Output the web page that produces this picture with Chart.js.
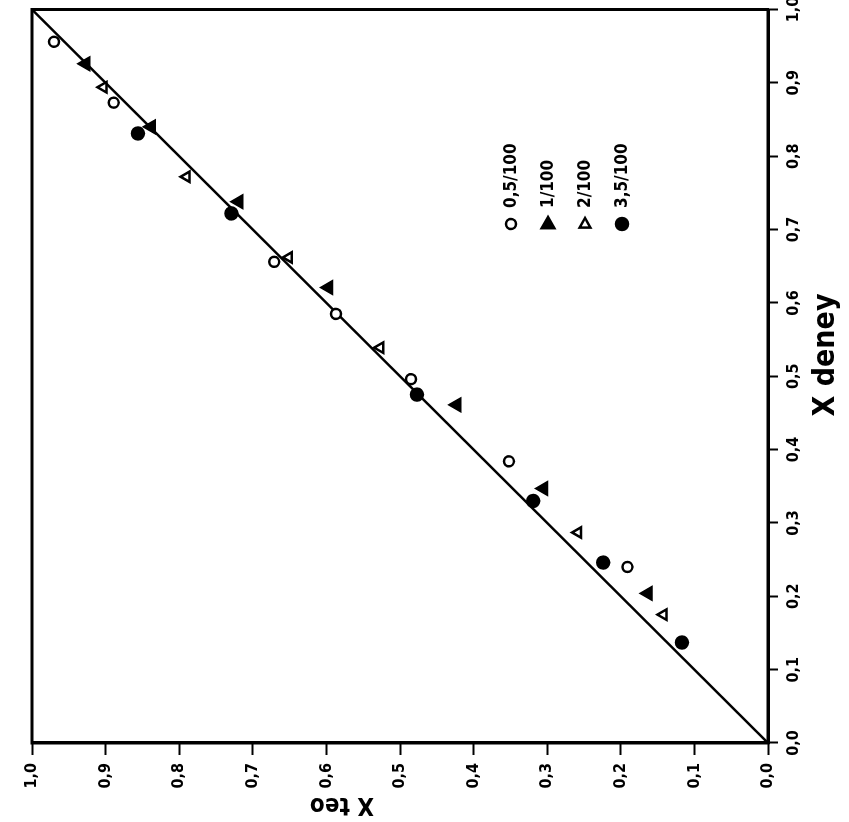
<!DOCTYPE html>
<html>
<head>
<meta charset="utf-8">
<script src="https://cdn.jsdelivr.net/npm/chart.js@4.4.1/dist/chart.umd.min.js"></script>
<style>
html, body { margin: 0; padding: 0; background: #fff; overflow: hidden; }
#wrap { position: absolute; left: 0; top: 0; width: 849px; height: 822px; }
/* the original figure is printed turned a quarter turn, so the whole canvas is turned */
#c { position: absolute; left: 0; top: 0; transform-origin: 0 0; transform: translateY(822px) rotate(-90deg); }
</style>
</head>
<body>
<div id="wrap"><canvas id="c" width="822" height="849"></canvas></div>
<script>
// series: x teo (theory) vs x deney (experiment)
const seriesNames = ['0,5/100', '1/100', '2/100', '3,5/100'];

const teo05   = [0.970, 0.889, 0.671, 0.587, 0.485, 0.352, 0.191];
const deney05 = [0.956, 0.873, 0.656, 0.585, 0.496, 0.384, 0.240];

const teo1    = [0.927, 0.838, 0.719, 0.597, 0.423, 0.305, 0.163];
const deney1  = [0.926, 0.840, 0.738, 0.621, 0.461, 0.347, 0.204];

const teo2    = [0.903, 0.790, 0.651, 0.527, 0.258, 0.142];
const deney2  = [0.894, 0.772, 0.662, 0.539, 0.287, 0.175];

const teo35   = [0.856, 0.729, 0.477, 0.319, 0.224, 0.117];
const deney35 = [0.831, 0.722, 0.475, 0.330, 0.246, 0.137];

// y = x reference line
const lineDeney = [0, 1];
const lineTeo = [0, 1];

const tickLabels = ['0,0', '0,1', '0,2', '0,3', '0,4', '0,5', '0,6', '0,7', '0,8', '0,9', '1,0'];
const xTitle = 'X deney';
const yTitle = 'X teo';

const FONT = "'Liberation Sans Narrow', 'DejaVu Sans Condensed', 'Liberation Sans', sans-serif";

function pts(xs, ys) {
    return xs.map((x, i) => ({x: x, y: ys[i]}));
}

// marker look per series
const markers = [
    {style: 'circle', radius: 5, fill: '#fff'},
    {style: 'triangle', radius: 7, fill: '#000'},
    {style: 'triangle', radius: 6, fill: '#fff'},
    {style: 'circle', radius: 6, fill: '#000'}
];

const frame = {
    id: 'frame',
    afterDraw(chart) {
        const a = chart.chartArea, ctx = chart.ctx;
        ctx.save();
        ctx.strokeStyle = '#000';
        ctx.lineWidth = 3;
        ctx.strokeRect(a.left, a.top, a.right - a.left, a.bottom - a.top);
        ctx.restore();
    }
};

// axis titles sit a bit off centre in the original
const titles = {
    id: 'titles',
    afterDraw(chart) {
        const ctx = chart.ctx;
        ctx.save();
        ctx.fillStyle = '#000';
        ctx.textAlign = 'center';
        ctx.textBaseline = 'middle';
        ctx.font = 'bold 30px ' + FONT;
        ctx.fillText(xTitle, 467, 826);
        ctx.translate(18, 342);
        ctx.rotate(-Math.PI / 2);
        ctx.font = 'bold 24px ' + FONT;
        ctx.fillText(yTitle, 0, 0);
        ctx.restore();
    }
};

// small legend sitting inside the plot
const legendBox = {
    id: 'legendBox',
    afterDraw(chart) {
        const ctx = chart.ctx;
        ctx.save();
        ctx.font = 'bold 17px ' + FONT;
        ctx.textBaseline = 'middle';
        seriesNames.forEach((name, i) => {
            const m = markers[i];
            const x = 598, y = 511 + i * 37;
            ctx.lineWidth = 2.5;
            ctx.strokeStyle = '#000';
            ctx.fillStyle = m.fill;
            ctx.beginPath();
            if (m.style === 'circle') {
                ctx.arc(x, y, m.radius, 0, Math.PI * 2);
            } else {
                const r = m.radius;
                ctx.moveTo(x + r, y);
                ctx.lineTo(x - r * 0.6, y - r * 0.9);
                ctx.lineTo(x - r * 0.6, y + r * 0.9);
                ctx.closePath();
            }
            ctx.fill();
            ctx.stroke();
            ctx.fillStyle = '#000';
            ctx.fillText(name, 614, y + 1);
        });
        ctx.restore();
    }
};

const scatterSets = [
    [deney05, teo05], [deney1, teo1], [deney2, teo2], [deney35, teo35]
].map((d, i) => ({
    label: seriesNames[i],
    data: pts(d[0], d[1]),
    pointStyle: markers[i].style,
    pointRadius: markers[i].radius,
    pointBackgroundColor: markers[i].fill,
    pointBorderColor: '#000',
    pointBorderWidth: 2.5,
    showLine: false
}));

new Chart(document.getElementById('c'), {
    type: 'scatter',
    data: {
        datasets: scatterSets.concat([{
            label: 'y=x',
            data: pts(lineDeney, lineTeo),
            showLine: true,
            borderColor: '#000',
            borderWidth: 2.5,
            pointRadius: 0
        }])
    },
    options: {
        responsive: false,
        animation: false,
        devicePixelRatio: 1,
        events: [],
        layout: {padding: {top: 32, right: 9, left: 0, bottom: 0}},
        plugins: {
            legend: {display: false},
            tooltip: {enabled: false}
        },
        scales: {
            x: {
                type: 'linear',
                position: 'bottom',
                min: 0,
                max: 1,
                afterFit(s) { s.height = 81; s.paddingLeft = 0; s.paddingRight = 0; },
                ticks: {
                    stepSize: 0.1,
                    autoSkip: false,
                    maxRotation: 0,
                    padding: 6,
                    color: '#000',
                    font: {family: FONT, size: 16, weight: 'bold'},
                    callback: v => tickLabels[Math.round(v * 10)]
                },
                grid: {drawOnChartArea: false, drawTicks: true, tickLength: 10, tickWidth: 2, tickColor: '#000'},
                border: {color: '#000', width: 3}
            },
            y: {
                type: 'linear',
                position: 'left',
                min: 0,
                max: 1,
                afterFit(s) { s.width = 79; s.paddingTop = 0; s.paddingBottom = 0; },
                ticks: {
                    stepSize: 0.1,
                    autoSkip: false,
                    padding: 8,
                    color: '#000',
                    font: {family: FONT, size: 16, weight: 'bold'},
                    callback: v => tickLabels[Math.round(v * 10)]
                },
                grid: {drawOnChartArea: false, drawTicks: true, tickLength: 12, tickWidth: 2, tickColor: '#000'},
                border: {color: '#000', width: 3}
            }
        }
    },
    plugins: [frame, titles, legendBox]
});
</script>
</body>
</html>
